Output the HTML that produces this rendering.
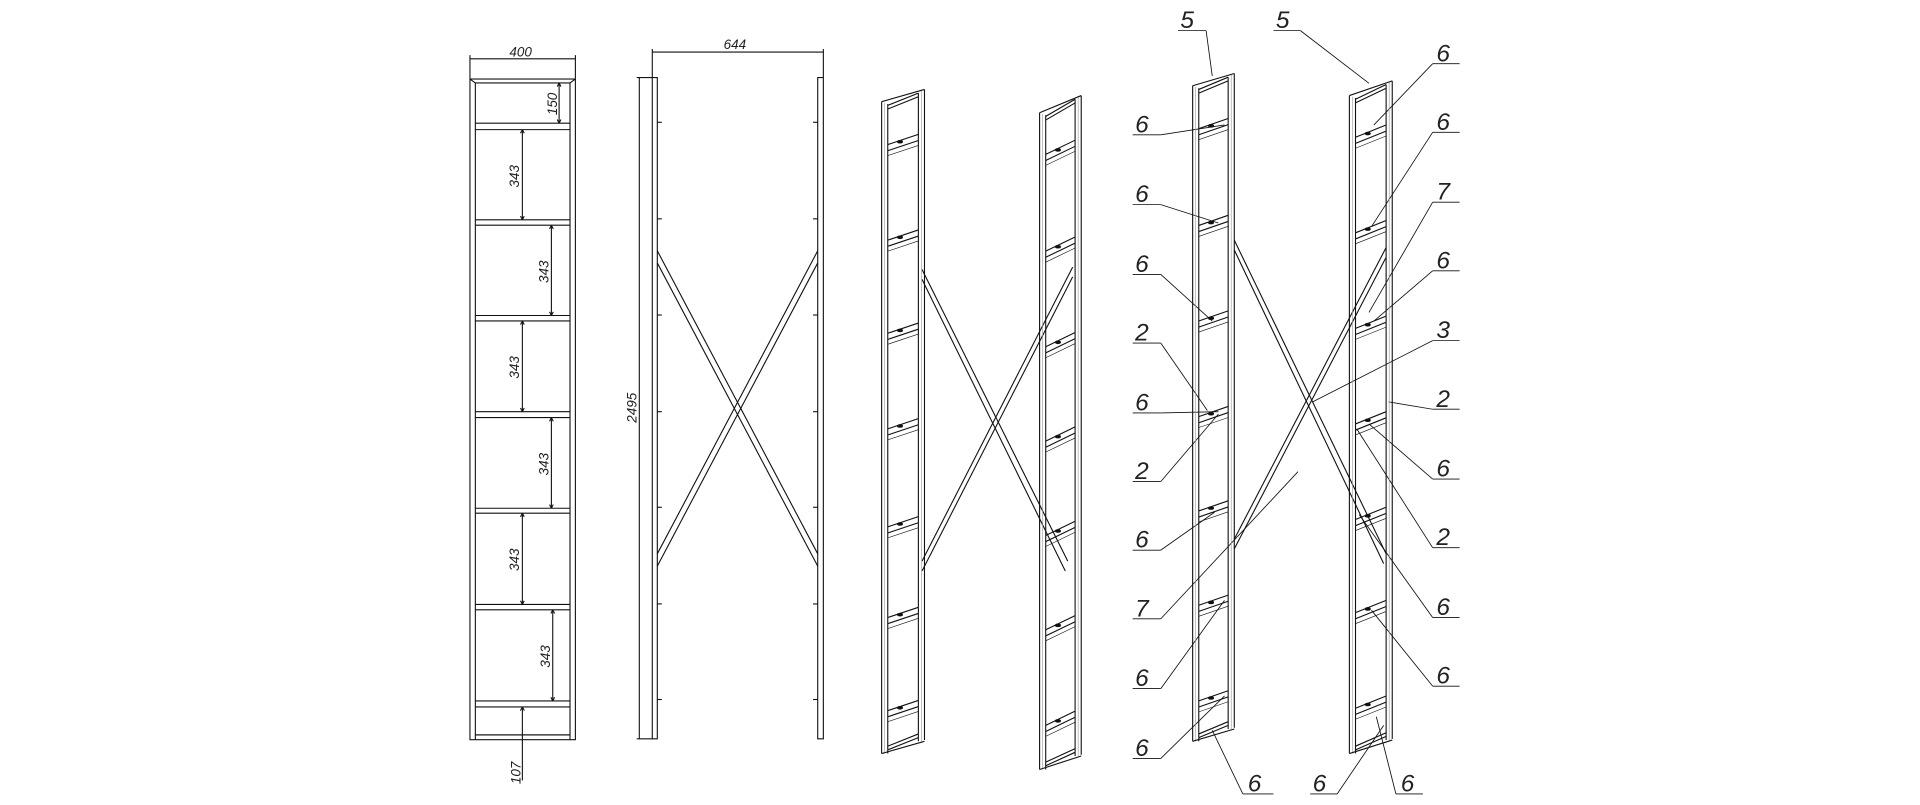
<!DOCTYPE html>
<html><head><meta charset="utf-8"><style>
html,body{margin:0;padding:0;background:#fff;width:1920px;height:805px;overflow:hidden}
svg{display:block}
text{font-family:"Liberation Sans",sans-serif;font-style:italic;fill:#222}
</style></head><body>
<svg id="s" width="1920" height="805" viewBox="0 0 1568 657" preserveAspectRatio="none" xmlns="http://www.w3.org/2000/svg">
<g id="g" stroke="#111" stroke-width="0.9" fill="none">
<rect x="383.8" y="64.5" width="86.1" height="539.2"/>
<line x1="388.2" y1="67.7" x2="388.2" y2="603.7"/>
<line x1="465.5" y1="67.7" x2="465.5" y2="603.7"/>
<line x1="383.8" y1="64.5" x2="388.2" y2="67.7"/><line x1="469.9" y1="64.5" x2="465.5" y2="67.7"/>
<line x1="388.2" y1="67.7" x2="465.5" y2="67.7"/>
<line x1="383.8" y1="48" x2="469.9" y2="48"/>
<line x1="383.8" y1="45" x2="383.8" y2="64"/><line x1="469.9" y1="45" x2="469.9" y2="64"/>
<rect x="532.7" y="63.3" width="4.1" height="539.7"/>
<rect x="667.8" y="63.3" width="4.6" height="539.7"/>
<line x1="532.7" y1="42.5" x2="672.4" y2="42.5"/>
<line x1="532.7" y1="40" x2="532.7" y2="63"/><line x1="672.4" y1="40" x2="672.4" y2="63"/>
<line x1="522.1" y1="63.3" x2="522.1" y2="603"/>
<line x1="520" y1="63.3" x2="532.7" y2="63.3"/><line x1="520" y1="603" x2="532.7" y2="603"/>
<line x1="536.8" y1="204.7" x2="667.8" y2="452"/>
<line x1="536.8" y1="214.6" x2="667.8" y2="462"/>
<line x1="667.8" y1="204.7" x2="536.8" y2="452"/>
<line x1="667.8" y1="214.6" x2="536.8" y2="462"/>
<line x1="753" y1="220" x2="872" y2="458"/><line x1="753" y1="228" x2="870" y2="466"/>
<line x1="753" y1="458" x2="876" y2="218"/><line x1="753" y1="466" x2="876" y2="226"/>
<line x1="1008" y1="196" x2="1132" y2="452"/><line x1="1008" y1="204" x2="1130" y2="460"/>
<line x1="1008" y1="440" x2="1132" y2="202"/><line x1="1008" y1="448" x2="1132" y2="210"/>
<g stroke-width="0.7">
<line x1="962" y1="25" x2="985" y2="25"/><line x1="985" y1="25" x2="990" y2="62"/>
<line x1="925" y1="110" x2="948" y2="110"/><line x1="948" y1="110" x2="1000" y2="102"/>
<line x1="925" y1="167" x2="948" y2="167"/><line x1="948" y1="167" x2="995" y2="182"/>
<line x1="925" y1="224" x2="948" y2="224"/><line x1="948" y1="224" x2="990" y2="262"/>
<line x1="925" y1="280" x2="948" y2="280"/><line x1="948" y1="280" x2="986" y2="335"/>
<line x1="925" y1="337" x2="948" y2="337"/><line x1="948" y1="337" x2="995" y2="336"/>
<line x1="925" y1="393" x2="948" y2="393"/><line x1="948" y1="393" x2="995" y2="338"/>
<line x1="925" y1="449" x2="948" y2="449"/><line x1="948" y1="449" x2="992" y2="418"/>
<line x1="925" y1="505" x2="948" y2="505"/><line x1="948" y1="505" x2="1060" y2="385"/>
<line x1="925" y1="562" x2="948" y2="562"/><line x1="948" y1="562" x2="1000" y2="490"/>
<line x1="925" y1="619" x2="948" y2="619"/><line x1="948" y1="619" x2="1000" y2="568"/>
<line x1="1015" y1="648" x2="1040" y2="648"/><line x1="1015" y1="648" x2="990" y2="596"/>
<line x1="1040" y1="25" x2="1062" y2="25"/><line x1="1062" y1="25" x2="1118" y2="68"/>
<line x1="1170" y1="52" x2="1192" y2="52"/><line x1="1170" y1="52" x2="1122" y2="102"/>
<line x1="1170" y1="108" x2="1192" y2="108"/><line x1="1170" y1="108" x2="1120" y2="185"/>
<line x1="1170" y1="165" x2="1192" y2="165"/><line x1="1170" y1="165" x2="1118" y2="255"/>
<line x1="1170" y1="221" x2="1192" y2="221"/><line x1="1170" y1="221" x2="1122" y2="262"/>
<line x1="1170" y1="278" x2="1192" y2="278"/><line x1="1170" y1="278" x2="1072" y2="328"/>
<line x1="1170" y1="334" x2="1192" y2="334"/><line x1="1170" y1="334" x2="1134" y2="328"/>
<line x1="1170" y1="391" x2="1192" y2="391"/><line x1="1170" y1="391" x2="1118" y2="346"/>
<line x1="1170" y1="447" x2="1192" y2="447"/><line x1="1170" y1="447" x2="1108" y2="350"/>
<line x1="1170" y1="504" x2="1192" y2="504"/><line x1="1170" y1="504" x2="1110" y2="420"/>
<line x1="1170" y1="560" x2="1192" y2="560"/><line x1="1170" y1="560" x2="1120" y2="498"/>
<line x1="1140" y1="648" x2="1162" y2="648"/><line x1="1140" y1="648" x2="1124" y2="585"/>
<line x1="1070" y1="648" x2="1092" y2="648"/><line x1="1092" y1="648" x2="1130" y2="592"/>
</g>
</g>
<g font-size="11" fill="#333">
<text x="416" y="46">400</text>
<text x="591" y="40">644</text>
<text transform="translate(520,345) rotate(-90)">2495</text>
<text transform="translate(455,94) rotate(-90)">150</text>
<text transform="translate(424,153) rotate(-90)">343</text>
<text transform="translate(448,231) rotate(-90)">343</text>
<text transform="translate(424,309) rotate(-90)">343</text>
<text transform="translate(448,388) rotate(-90)">343</text>
<text transform="translate(424,466) rotate(-90)">343</text>
<text transform="translate(449,545) rotate(-90)">343</text>
<text transform="translate(425,640) rotate(-90)">107</text>
</g>
<g font-size="20">
<text x="964" y="23">5</text>
<text x="927" y="108">6</text><text x="927" y="165">6</text><text x="927" y="222">6</text>
<text x="927" y="278">2</text><text x="927" y="335">6</text><text x="927" y="391">2</text>
<text x="927" y="447">6</text><text x="927" y="503">7</text><text x="927" y="560">6</text>
<text x="927" y="617">6</text><text x="1019" y="646">6</text>
<text x="1042" y="23">5</text>
<text x="1173" y="50">6</text><text x="1173" y="106">6</text><text x="1173" y="163">7</text>
<text x="1173" y="219">6</text><text x="1173" y="276">3</text><text x="1173" y="332">2</text>
<text x="1173" y="389">6</text><text x="1173" y="445">2</text><text x="1173" y="502">6</text>
<text x="1173" y="558">6</text><text x="1144" y="646">6</text><text x="1072" y="646">6</text>
</g>
</svg>
<script>
(function(){
var g=document.getElementById('g'),NS='http://www.w3.org/2000/svg';
function L(a,b,c,d,w,col){var l=document.createElementNS(NS,'line');l.setAttribute('x1',a);l.setAttribute('y1',b);l.setAttribute('x2',c);l.setAttribute('y2',d);if(w)l.setAttribute('stroke-width',w);if(col)l.setAttribute('stroke',col);g.appendChild(l);}
[[100.5,105.8],[179.4,183.8],[257.5,261.9],[336,340.8],[414.8,418.8],[493.3,497.7],[572.1,577],[599.8,599.8]].forEach(function(p){L(388.2,p[0],465.5,p[0]);L(388.2,p[1],465.5,p[1]);});
function dim(x,y1,y2){L(x,y1,x,y2);L(x-1.5,y1+3,x,y1);L(x+1.5,y1+3,x,y1);L(x-1.5,y2-3,x,y2);L(x+1.5,y2-3,x,y2);}
dim(456.6,67.7,100.5);dim(426.6,105.8,179.4);dim(450.3,183.8,257.5);dim(426.6,261.9,336);dim(450.3,340.8,414.8);dim(426.6,418.8,493.3);dim(451.4,497.7,572.1);
L(426.6,577,426.6,637);L(425,580,426.6,577);L(428.2,580,426.6,577);
[99.8,178.6,257.1,336,414,492.9,570.9].forEach(function(y){L(536.8,y,540.5,y);L(664,y,667.8,y);});
function frame(lx,lt,lb,rx,rt,rb,rungs){var w=5;
L(lx,lt,lx,lb);L(lx+w,lt+2,lx+w,lb);L(rx,rt+3,rx,rb);L(rx+w,rt,rx+w,rb-1);
L(lx+2.5,lt+1,lx+2.5,lb,0.5,'#999');L(rx+2.5,rt+1,rx+2.5,rb,0.5,'#999');
L(lx,lt,rx+w,rt);L(lx+w,lt+3,rx,rt+3);L(lx+w,lt+6,rx,rt+6);
L(lx,lb,rx+w,rb);L(lx+w,lb-3,rx,rb-3);L(lx+w,lb-6,rx,rb-6);
var s=(lt-rt)/(rx-lx);
rungs.forEach(function(y){var d=s*(rx-lx-w);L(lx+w,y,rx,y-d);L(lx+w,y+5,rx,y+5-d);L(lx+w,y+9,rx,y+9-d,0.5);
var c1=document.createElementNS(NS,'ellipse');c1.setAttribute('cx',lx+w+10);c1.setAttribute('cy',y+1-d*0.4);c1.setAttribute('rx',2);c1.setAttribute('ry',1);c1.setAttribute('fill','#111');g.appendChild(c1);});}
frame(720,83,615,750,73,605,[118,196,272,350,430,504,580]);
frame(849,92,628,878,78,617,[126,205,283,360,437,514,592]);
frame(974,70,605,1003,60,595,[105,184,262,340,417,494,572]);
frame(1102,78,615,1132,66,604,[112,190,268,346,424,500,578]);
})();
</script>
</body></html>
